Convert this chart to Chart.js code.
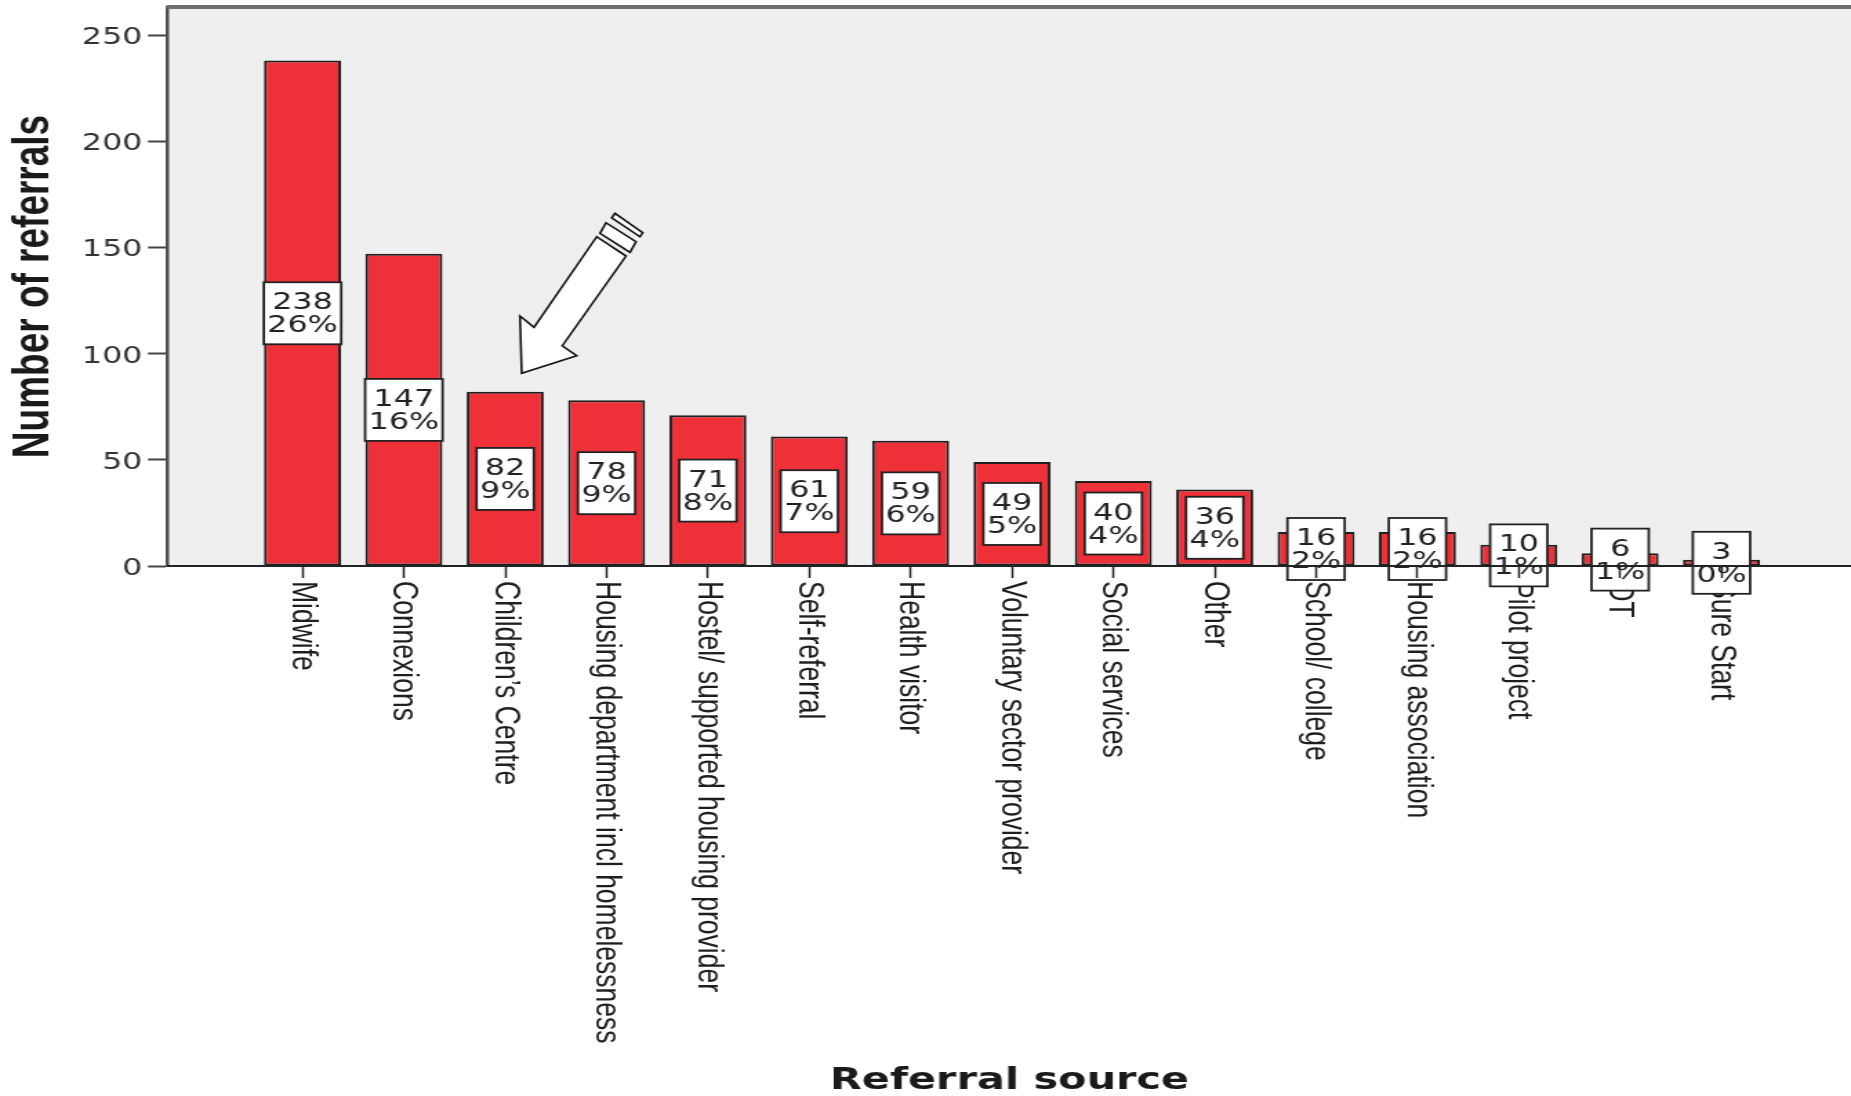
<!DOCTYPE html>
<html lang="en">
<head>
    <meta charset="UTF-8">
    <title>Referral source</title>
    <script src="https://cdn.jsdelivr.net/npm/chart.js"></script>
    <style>
        html, body {
            margin: 0;
            padding: 0;
            background: #ffffff;
            overflow: hidden;
        }
        /* the original picture is stretched sideways, so the chart is drawn narrow and scaled out */
        #wrap {
            position: absolute;
            left: 0;
            top: 0;
            width: 1341px;
            height: 1096px;
            transform: scaleX(1.38031);
            transform-origin: 0 0;
        }
    </style>
</head>
<body>
<div id="wrap">
    <canvas id="referralChart" width="1341" height="1096"></canvas>
</div>
<script>
    const categories = [
        'Midwife', 'Connexions', 'Children\u2019s Centre', 'Housing department incl homelessness',
        'Hostel/ supported housing provider', 'Self-referral', 'Health visitor', 'Voluntary sector provider',
        'Social services', 'Other', 'School/ college', 'Housing association', 'Pilot project', 'OT', 'Sure Start'
    ];
    const counts = [238, 147, 82, 78, 71, 61, 59, 49, 40, 36, 16, 16, 10, 6, 3];
    const percents = ['26%', '16%', '9%', '9%', '8%', '7%', '6%', '5%', '4%', '4%', '2%', '2%', '1%', '1%', '0%'];
    const yTickValues = [0, 50, 100, 150, 200, 250];
    const arrowBar = 2; // the arrow points at Children's Centre

    const SX = 1.38031; // horizontal stretch of the page

    // arrow outline, in screen pixels relative to its tip
    const arrowBody = [[75, -136.6], [12.3, -46], [-1.7, -57.3], [0, 0], [55, -17.6], [40.6, -27.6], [104.3, -117.3]];
    const arrowBands = [
        [[84.3, -150.6], [114.3, -131.6], [108.3, -121], [78.3, -140]],
        [[93.3, -160], [121, -140.6], [118.3, -136.6], [90, -155.6]]
    ];

    const plotBackground = {
        id: 'plotBackground',
        beforeDraw(chart) {
            const { ctx, chartArea } = chart;
            ctx.save();
            ctx.fillStyle = '#ffffff';
            ctx.fillRect(0, 0, chart.width, chart.height);
            ctx.fillStyle = '#efefef';
            ctx.fillRect(chartArea.left, chartArea.top, chartArea.right - chartArea.left, chartArea.bottom - chartArea.top);
            ctx.restore();
        },
        afterDraw(chart) {
            const { ctx, chartArea } = chart;
            ctx.save();
            ctx.strokeStyle = '#6e6e6e';
            ctx.lineWidth = 4;
            ctx.beginPath();
            ctx.moveTo(chartArea.left - 1, chartArea.top);
            ctx.lineTo(chartArea.right, chartArea.top);
            ctx.stroke();
            ctx.restore();
        }
    };

    function polygon(ctx, pts, ox, oy) {
        ctx.beginPath();
        pts.forEach(function(p, i) {
            const px = ox + p[0] / SX, py = oy + p[1];
            if (i === 0) ctx.moveTo(px, py); else ctx.lineTo(px, py);
        });
        ctx.closePath();
        ctx.fill();
        ctx.stroke();
    }

    const barLabels = {
        id: 'barLabels',
        afterDatasetsDraw(chart) {
            const { ctx } = chart;
            const xs = chart.scales.x, ys = chart.scales.y;
            const base = ys.getPixelForValue(0);

            // category names, turned clockwise
            ctx.save();
            ctx.fillStyle = '#1e1e1e';
            ctx.font = '26.5px "Liberation Sans", Arial, sans-serif';
            ctx.textAlign = 'left';
            ctx.textBaseline = 'middle';
            categories.forEach(function(name, i) {
                ctx.save();
                ctx.translate(xs.getPixelForValue(i), base + 15);
                ctx.rotate(Math.PI / 2);
                ctx.fillText(name, 0, 0);
                ctx.restore();
            });
            ctx.restore();

            // count / percent boxes at mid height
            ctx.save();
            ctx.font = '23px "DejaVu Sans", sans-serif';
            ctx.textAlign = 'center';
            ctx.textBaseline = 'alphabetic';
            counts.forEach(function(v, i) {
                const cx = xs.getPixelForValue(i);
                const cy = ys.getPixelForValue(v / 2);
                const top = String(v), bottom = percents[i];
                const w = Math.max(ctx.measureText(top).width, ctx.measureText(bottom).width) + 5;
                const h = 62;
                ctx.fillStyle = '#ffffff';
                ctx.fillRect(cx - w / 2, cy - h / 2, w, h);
                ctx.strokeStyle = '#222222';
                ctx.lineWidth = 1.8;
                ctx.strokeRect(cx - w / 2, cy - h / 2, w, h);
                ctx.fillStyle = '#222222';
                ctx.fillText(top, cx, cy - 4);
                ctx.fillText(bottom, cx, cy + 19);
            });
            ctx.restore();

            // arrow pointing at the Children's Centre bar
            const tipX = xs.getPixelForValue(arrowBar) + 16.5 / SX;
            const tipY = ys.getPixelForValue(counts[arrowBar]) - 18.5;
            ctx.save();
            ctx.fillStyle = '#ffffff';
            ctx.strokeStyle = '#111111';
            ctx.lineWidth = 1.6;
            ctx.lineJoin = 'miter';
            polygon(ctx, arrowBody, tipX, tipY);
            arrowBands.forEach(function(b) { polygon(ctx, b, tipX, tipY); });
            ctx.restore();
        }
    };

    const ctx = document.getElementById('referralChart').getContext('2d');
    const referralChart = new Chart(ctx, {
        type: 'bar',
        data: {
            datasets: [{
                data: counts.map(function(v, i) { return { x: i, y: v }; }),
                backgroundColor: '#ee3039',
                borderColor: '#1f1f1f',
                borderWidth: 2,
                borderSkipped: false,
                barPercentage: 0.76,
                categoryPercentage: 1
            }]
        },
        options: {
            responsive: false,
            animation: false,
            layout: { padding: { top: 7, left: 0, right: 0, bottom: 0 } },
            plugins: {
                legend: { display: false },
                tooltip: { enabled: false }
            },
            scales: {
                x: {
                    type: 'linear',
                    offset: false,
                    min: -1.327,
                    max: 15.278,
                    afterBuildTicks(scale) {
                        scale.ticks = categories.map(function(_, i) { return { value: i }; });
                    },
                    afterFit(scale) {
                        scale.height = 530;
                        scale.paddingLeft = 0;
                        scale.paddingRight = 0;
                    },
                    ticks: { display: false },
                    grid: {
                        offset: false,
                        drawOnChartArea: false,
                        drawTicks: true,
                        tickLength: 12,
                        tickColor: '#222222',
                        tickWidth: 1.5,
                        z: 1
                    },
                    border: { display: true, color: '#222222', width: 2, z: 1 },
                    title: {
                        display: true,
                        text: 'Referral source',
                        color: '#1a1a1a',
                        font: { family: '"DejaVu Sans", sans-serif', size: 30, weight: 'bold', lineHeight: 1 },
                        padding: { top: 0, bottom: 0 }
                    }
                },
                y: {
                    min: 0,
                    max: 263.2,
                    afterBuildTicks(scale) {
                        scale.ticks = yTickValues.map(function(v) { return { value: v }; });
                    },
                    afterFit(scale) {
                        scale.width = 121.7;
                        scale.paddingTop = 0;
                        scale.paddingBottom = 0;
                    },
                    ticks: {
                        color: '#333333',
                        padding: 4,
                        labelOffset: 3,
                        font: { family: '"DejaVu Sans", sans-serif', size: 23 }
                    },
                    grid: {
                        drawOnChartArea: false,
                        drawTicks: true,
                        tickLength: 14.5,
                        tickColor: '#444444',
                        tickWidth: 2
                    },
                    border: { display: true, color: '#505050', width: 2.5 },
                    title: {
                        display: true,
                        text: 'Number of referrals',
                        color: '#1a1a1a',
                        font: { family: '"Liberation Sans", Arial, sans-serif', size: 37, weight: 'bold' },
                        padding: { top: 3, bottom: 0 }
                    }
                }
            }
        },
        plugins: [plotBackground, barLabels]
    });
</script>
</body>
</html>
